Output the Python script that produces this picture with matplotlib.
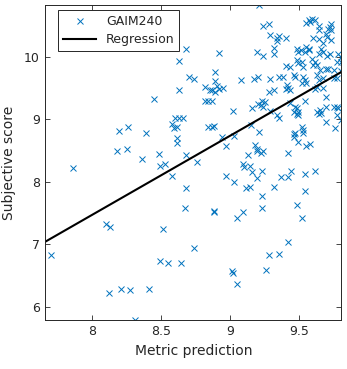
import matplotlib
matplotlib.use('Agg')
import matplotlib.pyplot as plt

# Scatter data (metric prediction vs subjective score)
metric = [
    7.70, 7.86, 8.10, 8.13, 8.12, 8.21, 8.27, 8.31, 8.41, 8.19, 8.26, 8.39, 8.18, 8.25, 8.36,
    8.45, 8.48, 8.49, 8.53, 8.51, 8.49, 8.55, 8.64, 8.58, 8.60, 8.63, 8.66, 8.58, 8.59, 8.61,
    8.61, 8.61, 8.68, 8.76, 8.68, 8.67, 8.74, 8.68, 8.63, 8.70, 8.74, 8.63,
    8.92, 9.19, 8.89, 9.08, 9.17, 9.20, 8.89, 8.82, 8.85, 8.87, 8.90, 8.92, 8.95, 8.89,
    8.82, 8.84, 8.87, 9.02, 9.16, 9.20, 8.84, 8.87, 8.88, 8.94, 9.03, 8.97, 9.15, 9.21,
    9.18, 9.19, 9.19, 9.22, 9.24, 9.13, 9.09, 9.10, 9.14, 9.16, 9.23, 9.19, 8.97, 9.03,
    9.11, 9.14, 9.23, 8.88, 8.88, 9.09, 9.05, 9.23, 9.48, 9.52, 9.42, 9.28, 9.35, 9.01,
    9.02, 9.26, 9.05,
    9.21, 9.24, 9.28, 9.29, 9.34, 9.35, 9.34, 9.40, 9.32, 9.32, 9.24, 9.57, 9.59, 9.61,
    9.55, 9.58, 9.64, 9.64, 9.73, 9.72, 9.71, 9.73, 9.69, 9.70, 9.73, 9.60, 9.64, 9.67,
    9.48, 9.51, 9.49, 9.55, 9.57, 9.54, 9.57, 9.66, 9.64, 9.67, 9.70, 9.72, 9.78, 9.80,
    9.77, 9.80, 9.48, 9.49, 9.52, 9.59, 9.61, 9.60, 9.63, 9.40, 9.43, 9.53, 9.69, 9.71,
    9.65, 9.75, 9.80, 9.29, 9.35, 9.38, 9.46, 9.47, 9.53, 9.54, 9.52, 9.55, 9.63, 9.64,
    9.67, 9.75, 9.77, 9.28, 9.32, 9.41, 9.42, 9.40, 9.43, 9.61, 9.63, 9.67, 9.69, 9.23,
    9.25, 9.22, 9.24, 9.29, 9.34, 9.35, 9.43, 9.47, 9.48, 9.49, 9.46, 9.48, 9.49, 9.54,
    9.63, 9.64, 9.65, 9.66, 9.69, 9.75, 9.77, 9.78, 9.69, 9.76, 9.77, 9.80, 9.52, 9.53,
    9.47, 9.53, 9.46, 9.46, 9.49, 9.55, 9.58, 9.42, 9.37, 9.42, 9.44, 9.54, 9.61, 9.32,
    9.54,
]
score = [
    6.83, 8.22, 7.32, 7.28, 6.22, 6.29, 6.28, 5.79, 6.29, 8.82, 8.87, 8.78, 8.50, 8.53, 8.37,
    9.32, 8.44, 8.25, 8.29, 7.25, 6.74, 6.71, 6.70, 8.09, 9.02, 9.02, 9.02, 8.92, 8.86, 8.88,
    8.70, 8.62, 8.43, 8.31, 7.90, 7.58, 6.95, 10.12, 9.93, 9.68, 9.65, 9.47,
    10.06, 10.08, 9.76, 9.63, 9.64, 9.68, 9.61, 9.52, 9.47, 9.47, 9.53, 9.48, 9.50, 9.44,
    9.29, 9.29, 9.29, 9.13, 9.18, 9.24, 8.88, 8.88, 8.90, 8.71, 8.73, 8.57, 8.91, 8.79,
    8.59, 8.53, 8.49, 8.46, 8.50, 8.43, 8.29, 8.24, 8.25, 8.16, 8.17, 8.06, 8.09, 7.99,
    7.90, 7.91, 7.78, 7.54, 7.52, 7.52, 7.42, 7.58, 7.63, 7.42, 7.04, 6.83, 6.84, 6.57,
    6.55, 6.59, 6.37,
    10.82, 10.49, 10.52, 10.35, 10.30, 10.33, 10.25, 10.30, 10.14, 10.05, 10.01, 10.59, 10.61, 10.58,
    10.54, 10.56, 10.49, 10.43, 10.52, 10.48, 10.44, 10.43, 10.36, 10.31, 10.26, 10.30, 10.28, 10.22,
    10.13, 10.11, 10.08, 10.16, 10.12, 10.08, 10.10, 10.13, 10.05, 10.08, 10.01, 10.05, 10.05, 10.00,
    9.92, 9.92, 9.95, 9.90, 9.92, 9.97, 9.92, 9.87, 9.87, 9.85, 9.84, 9.84, 9.80, 9.81,
    9.79, 9.79, 9.77, 9.65, 9.68, 9.68, 9.70, 9.68, 9.68, 9.63, 9.58, 9.58, 9.71, 9.63,
    9.66, 9.66, 9.66, 9.44, 9.46, 9.54, 9.50, 9.48, 9.47, 9.48, 9.52, 9.50, 9.36, 9.29,
    9.28, 9.23, 9.20, 9.13, 9.07, 9.02, 9.26, 9.20, 9.18, 9.12, 9.12, 9.08, 9.07, 9.29,
    9.12, 9.08, 9.15, 9.10, 9.19, 9.20, 9.20, 9.18, 8.96, 8.86, 9.07, 8.99, 8.87, 8.83,
    8.78, 8.78, 8.77, 8.71, 8.64, 8.57, 8.61, 8.46, 8.08, 8.08, 8.18, 8.13, 8.18, 7.92,
    7.85,
]

# Regression line end points
reg_x = [7.66, 9.80]
reg_y = [7.045, 9.75]

dark = '#262626'

fig = plt.figure(figsize=(3.47, 3.69), dpi=100)
ax = fig.add_axes([0.1305, 0.133, 0.853, 0.8535])

ax.plot(metric, score, 'x', color='#0072BD', markersize=4.5, mew=0.7,
        label='GAIM240', clip_on=True)
ax.plot(reg_x, reg_y, '-', color='black', linewidth=1.5, label='Regression')

ax.set_xlim(7.659, 9.804)
ax.set_ylim(5.794, 10.826)
ax.set_xticks([8, 8.5, 9, 9.5])
ax.set_xticklabels(['8', '8.5', '9', '9.5'])
ax.set_yticks([6, 7, 8, 9, 10])

ax.tick_params(direction='in', length=3.5, width=0.6, colors=dark,
               labelsize=9, top=True, right=True, pad=4)
for s in ax.spines.values():
    s.set_color(dark)
    s.set_linewidth(0.7)

ax.set_xlabel('Metric prediction', fontsize=10, color=dark, labelpad=4)
ax.set_ylabel('Subjective score', fontsize=10, color=dark, labelpad=6)

leg = ax.legend(loc='upper left', bbox_to_anchor=(0.044, 0.984),
                borderaxespad=0, fontsize=9, fancybox=False, framealpha=1,
                edgecolor=dark, handlelength=2.6, borderpad=0.4,
                labelspacing=0.4)
leg.get_frame().set_linewidth(0.7)
for t in leg.get_texts():
    t.set_color(dark)

fig.savefig('out.png', dpi=100)
